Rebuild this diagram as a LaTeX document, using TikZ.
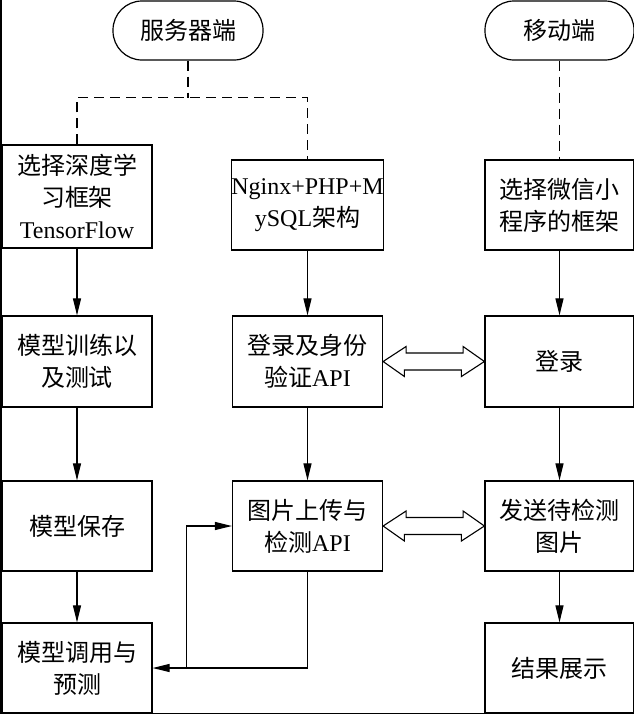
\documentclass[tikz,border=0pt]{standalone}
\usepackage{fontspec}
\setmainfont{Liberation Serif}
\newfontfamily\cjk{Noto Sans CJK SC}
\usetikzlibrary{arrows.meta,calc}
\tikzset{
  box/.style={draw, line width=1.2pt, rectangle, inner sep=0pt, minimum width=150pt, minimum height=90pt, align=center, font=\fontsize{24}{32}\selectfont},
  pill/.style={draw, line width=1.2pt, rectangle, rounded corners=29pt, inner sep=0pt, minimum width=150pt, minimum height=59pt, font=\fontsize{24}{32}\selectfont\cjk},
  arr/.style={line width=1.1pt, -{Triangle[length=17pt,width=8pt]}},
  dash line/.style={line width=1.1pt, dash pattern=on 10pt off 6pt},
  dblarr/.style={line width=1.1pt, fill=white}
}
\begin{document}
\begin{tikzpicture}[x=1pt,y=-1pt]
\useasboundingbox (0,0) rectangle (634,715);
% frame lines at left and bottom
\draw[line width=1.5pt] (1,0) -- (1,713.5) -- (634,713.5);
% pills
\node[pill] (srv) at (188,30.5) {服务器端};
\node[pill, minimum width=149pt] (mob) at (559.5,30.5) {移动端};
% column 1
\node[box, minimum height=103pt] (tf) at (77,196.5) {{\cjk 选择深度学}\\{\cjk 习框架}\\TensorFlow};
\node[box, minimum height=91pt] (train) at (77,361.5) {\cjk 模型训练以\\\cjk 及测试};
\node[box] (save) at (77,526) {\cjk 模型保存};
\node[box] (pred) at (77,668) {\cjk 模型调用与\\\cjk 预测};
% column 2
\node[box] (ngx) at (307.5,205) {Nginx+PHP+M\\ySQL{\cjk 架构}};
\node[box, minimum height=91pt] (auth) at (307.5,361.5) {{\cjk 登录及身份}\\{\cjk 验证}API};
\node[box] (up) at (307.5,526) {{\cjk 图片上传与}\\{\cjk 检测}API};
% column 3
\node[box, minimum width=149pt] (wx) at (559.5,205) {\cjk 选择微信小\\\cjk 程序的框架};
\node[box, minimum width=149pt, minimum height=91pt] (login) at (559.5,361.5) {\cjk 登录};
\node[box, minimum width=149pt] (send) at (559.5,526) {\cjk 发送待检测\\\cjk 图片};
\node[box, minimum width=149pt] (show) at (559.5,668) {\cjk 结果展示};
% dashed
\draw[dash line] (srv.south) -- ++(0,37) coordinate (j);
\draw[dash line] (tf.north) |- (j) -| (ngx.north);
\draw[dash line] (mob.south) -- (wx.north);
% arrows
\draw[arr] (tf) -- (train);
\draw[arr] (train) -- (save);
\draw[arr] (save) -- (pred);
\draw[arr] (ngx) -- (auth);
\draw[arr] (auth) -- (up);
\draw[arr] (wx) -- (login);
\draw[arr] (login) -- (send);
\draw[arr] (send) -- (show);
\draw[arr] (up.south) |- (pred.east);
\coordinate (fb) at ($(pred.east)+(34,0)$);
\draw[arr] (fb) |- (up.west);
% double arrows
\draw[dblarr] (auth.east) -- ++(23,-15) -- ++(0,6.5) -- ++(57,0) -- ++(0,-6.5) -- (login.west) -- ++(-23,15) -- ++(0,-6.5) -- ++(-57,0) -- ++(0,6.5) -- cycle;
\draw[dblarr] (up.east) -- ++(23,-15) -- ++(0,6.5) -- ++(57,0) -- ++(0,-6.5) -- (send.west) -- ++(-23,15) -- ++(0,-6.5) -- ++(-57,0) -- ++(0,6.5) -- cycle;
\end{tikzpicture}
\end{document}
